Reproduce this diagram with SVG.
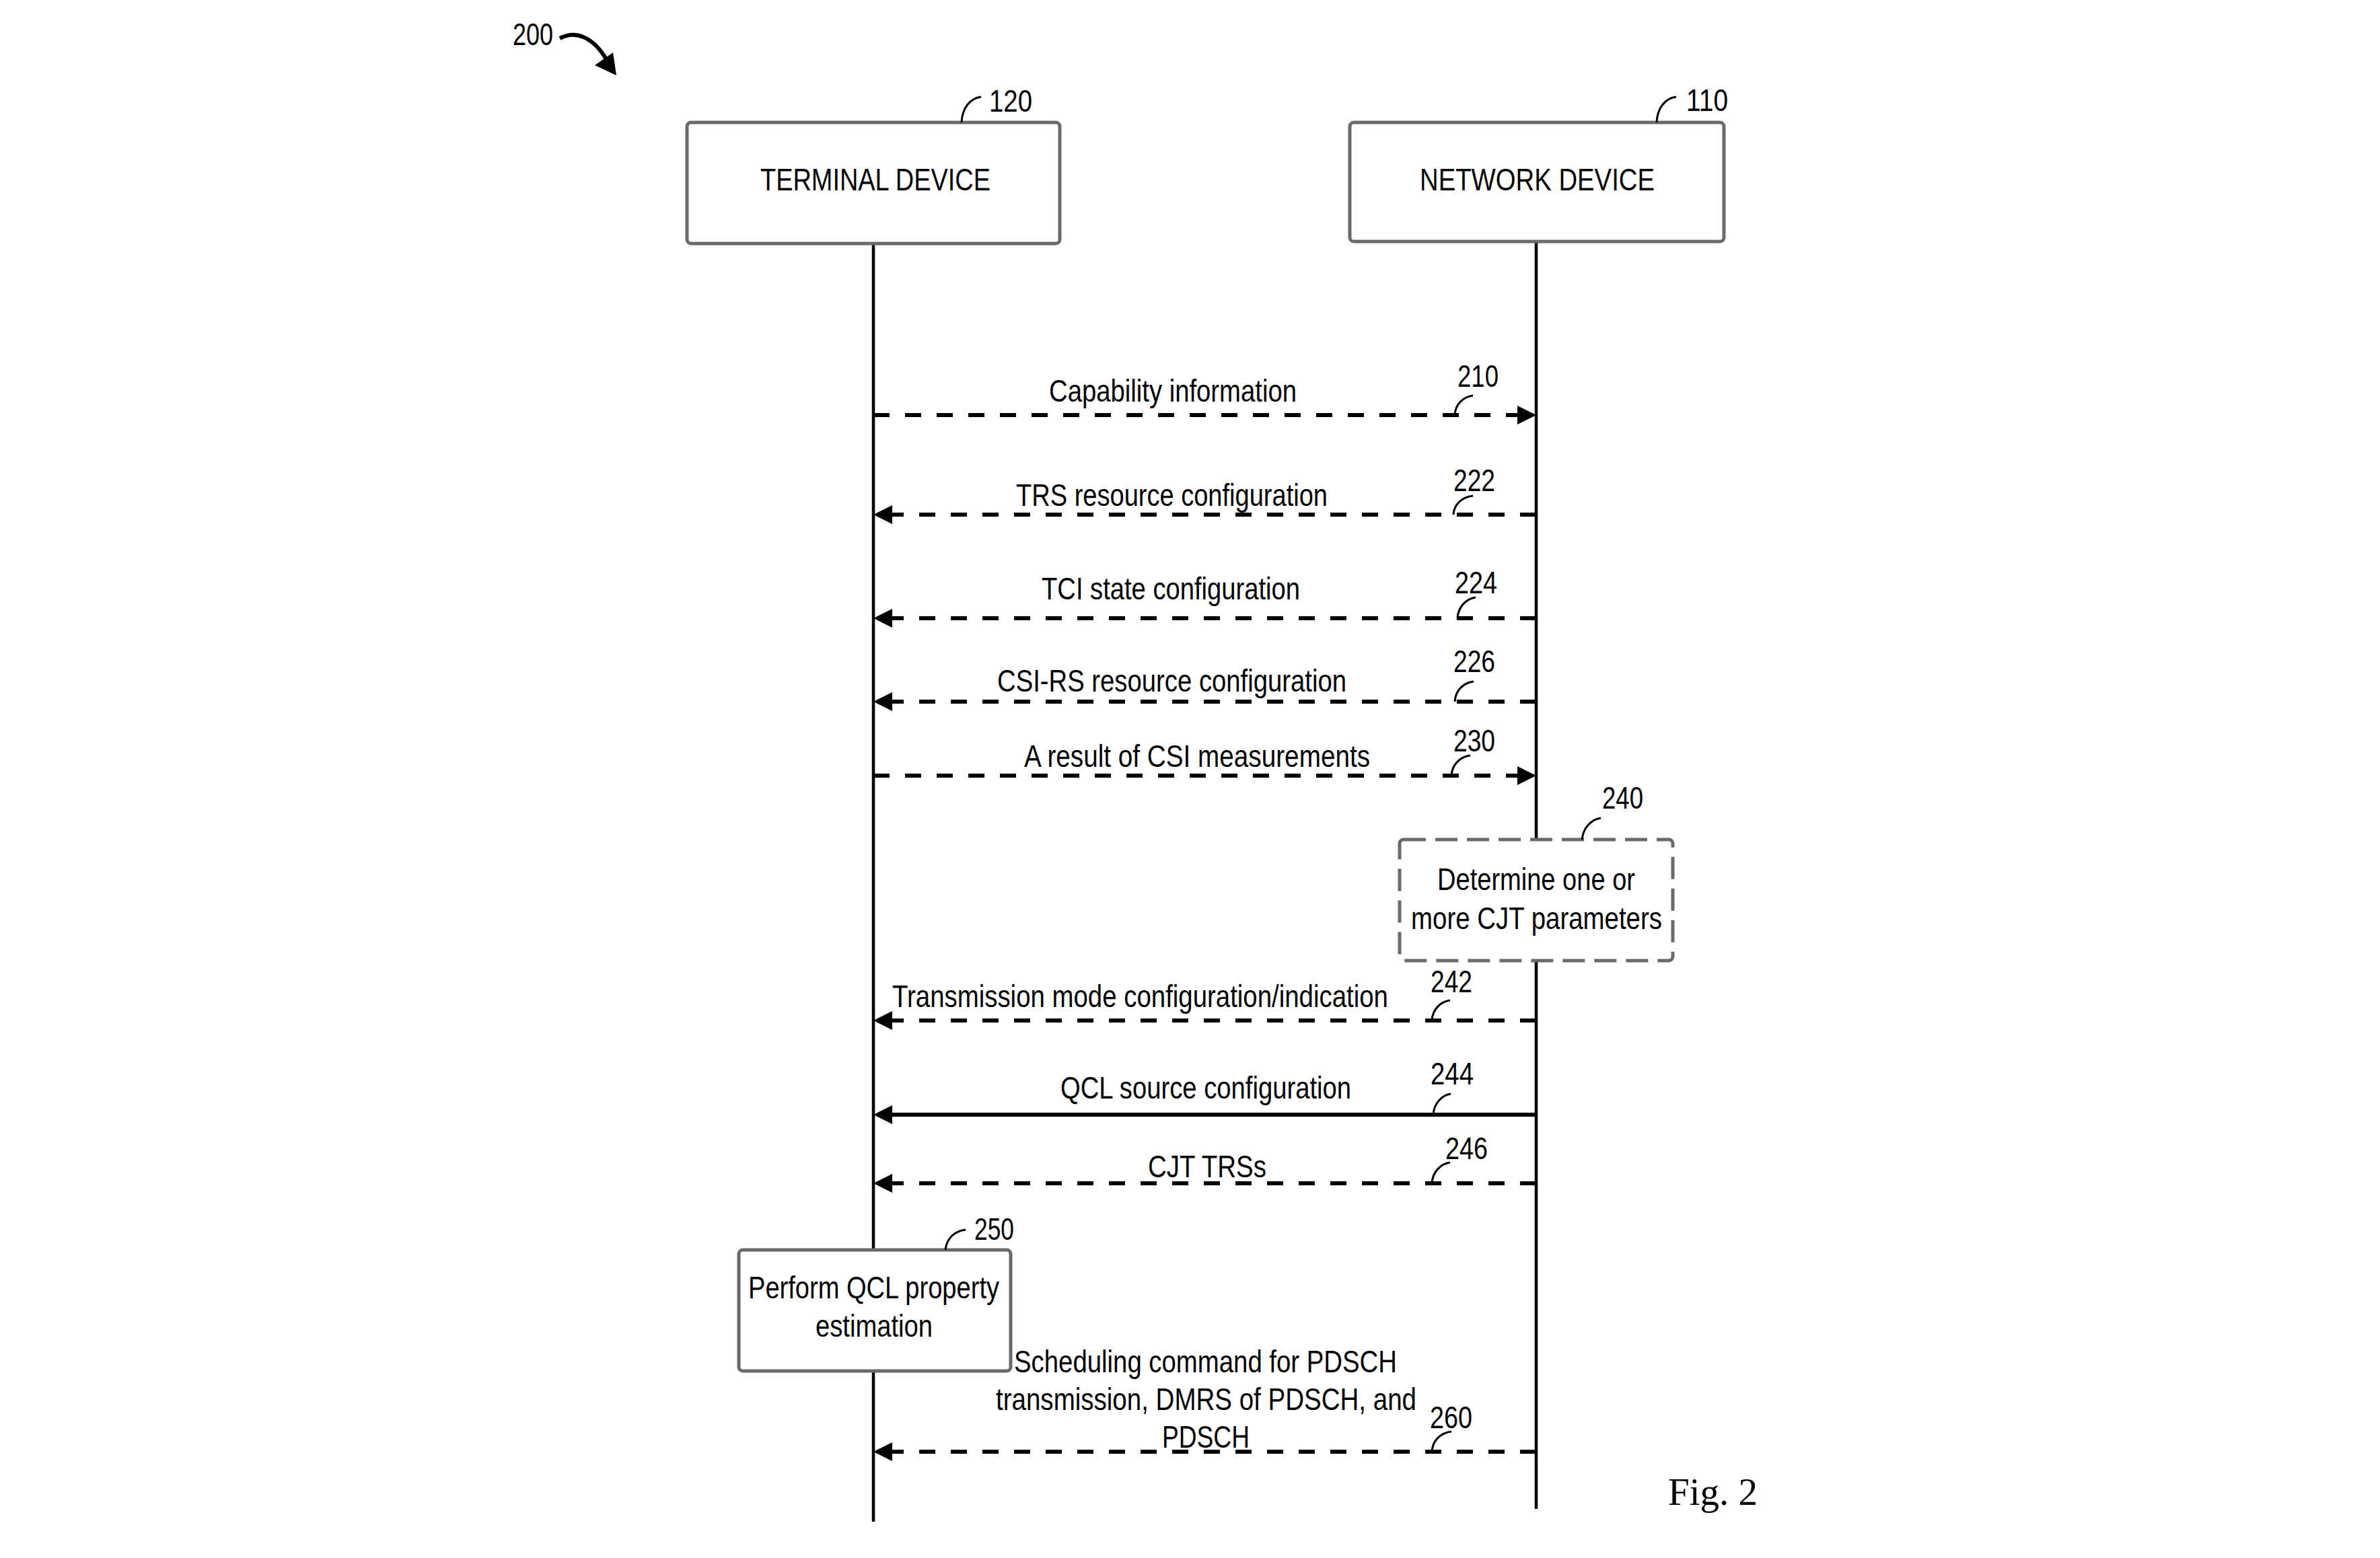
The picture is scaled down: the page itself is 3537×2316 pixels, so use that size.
<svg xmlns="http://www.w3.org/2000/svg" width="3537" height="2316" viewBox="0 0 3537 2316">
<style>
.t{font-family:"Liberation Sans",Arial,sans-serif;font-size:46px;fill:#000}
.box{fill:#fff;stroke:#6a6a6a;stroke-width:5}
.dbox{fill:#fff;stroke:#6a6a6a;stroke-width:5;stroke-dasharray:33 14}
.life{stroke:#000;stroke-width:4.5;fill:none}
.msg{stroke:#000;stroke-width:6;fill:none;stroke-dasharray:24 23}
.solid{stroke:#000;stroke-width:6;fill:none}
.lead{stroke:#000;stroke-width:3;fill:none}
</style>
<defs>
<marker id="ah" viewBox="0 0 28 28" refX="8" refY="14" markerWidth="28" markerHeight="28" markerUnits="userSpaceOnUse" orient="auto">
<path d="M0,0 L28,14 L0,28 z" fill="#000"/>
</marker>
</defs>
<rect width="3537" height="2316" fill="#fff"/>

<g id="figref">
<text class="t" transform="translate(762,67) scale(.835,1)" textLength="71.9" lengthAdjust="spacingAndGlyphs">200</text>
<path d="M832,57 C856,44 882,56 901,88" stroke="#000" stroke-width="6" fill="none"/>
<polygon points="884,97 911,78 916,112" fill="#000"/>
</g>

<g id="lifelines">
<line class="life" x1="1298" y1="362" x2="1298" y2="2262"/>
<line class="life" x1="2283" y1="359" x2="2283" y2="2243"/>
</g>

<g id="terminal">
<rect class="box" x="1021" y="182" width="554" height="180" rx="6"/>
<text class="t" transform="translate(1130,283) scale(.835,1)" textLength="409.6" lengthAdjust="spacingAndGlyphs">TERMINAL DEVICE</text>
<path class="lead" d="M1429,182 C1430,160 1442,146 1458,144"/>
<text class="t" transform="translate(1470,166) scale(.835,1)" textLength="76.6" lengthAdjust="spacingAndGlyphs">120</text>
</g>

<g id="network">
<rect class="box" x="2006" y="182" width="556" height="177" rx="6"/>
<text class="t" transform="translate(2110,283) scale(.835,1)" textLength="418" lengthAdjust="spacingAndGlyphs">NETWORK DEVICE</text>
<path class="lead" d="M2462,182 C2463,160 2475,146 2491,144"/>
<text class="t" transform="translate(2506,165) scale(.835,1)" textLength="74.3" lengthAdjust="spacingAndGlyphs">110</text>
</g>

<g id="step240">
<rect class="dbox" x="2080" y="1248" width="406" height="180" rx="6"/>
<text class="t" transform="translate(2136,1323) scale(.835,1)" textLength="352.1" lengthAdjust="spacingAndGlyphs">Determine one or</text>
<text class="t" transform="translate(2097,1381) scale(.835,1)" textLength="446.7" lengthAdjust="spacingAndGlyphs">more CJT parameters</text>
<path class="lead" d="M2351,1248 C2353,1230 2365,1218 2379,1216"/>
<text class="t" transform="translate(2381,1202) scale(.835,1)" textLength="73.1" lengthAdjust="spacingAndGlyphs">240</text>
</g>

<g id="step250">
<rect class="box" x="1098" y="1858" width="404" height="180" rx="6"/>
<text class="t" transform="translate(1112,1930) scale(.835,1)" textLength="446.7" lengthAdjust="spacingAndGlyphs">Perform QCL property</text>
<text class="t" transform="translate(1212,1987) scale(.835,1)" textLength="208.4" lengthAdjust="spacingAndGlyphs">estimation</text>
<path class="lead" d="M1405,1858 C1407,1840 1419,1830 1435,1828"/>
<text class="t" transform="translate(1448,1843) scale(.835,1)" textLength="70.7" lengthAdjust="spacingAndGlyphs">250</text>
</g>

<g id="connectors">
<path class="msg" d="M1298,617 L2263,617" marker-end="url(#ah)"/>
<path class="msg" d="M2283,765 L1318,765" marker-end="url(#ah)"/>
<path class="msg" d="M2283,919 L1318,919" marker-end="url(#ah)"/>
<path class="msg" d="M2283,1043 L1318,1043" marker-end="url(#ah)"/>
<path class="msg" d="M1298,1153 L2263,1153" marker-end="url(#ah)"/>
<path class="msg" d="M2283,1517 L1318,1517" marker-end="url(#ah)"/>
<path class="solid" d="M2283,1657 L1318,1657" marker-end="url(#ah)"/>
<path class="msg" d="M2283,1759 L1318,1759" marker-end="url(#ah)"/>
<path class="msg" d="M2283,2158 L1318,2158" marker-end="url(#ah)"/>
</g>

<g id="labels">
<text class="t" transform="translate(1559,597) scale(.835,1)" textLength="440.7" lengthAdjust="spacingAndGlyphs">Capability information</text>
<path class="lead" d="M2162,617 C2163,600 2175,590 2189,588"/>
<text class="t" transform="translate(2166,575) scale(.835,1)" textLength="73.1" lengthAdjust="spacingAndGlyphs">210</text>

<text class="t" transform="translate(1510,752) scale(.835,1)" textLength="554.5" lengthAdjust="spacingAndGlyphs">TRS resource configuration</text>
<path class="lead" d="M2160,765 C2161,749 2173,739 2189,737"/>
<text class="t" transform="translate(2160,730) scale(.835,1)" textLength="74.3" lengthAdjust="spacingAndGlyphs">222</text>

<text class="t" transform="translate(1548,891) scale(.835,1)" textLength="459.9" lengthAdjust="spacingAndGlyphs">TCI state configuration</text>
<path class="lead" d="M2166,919 C2167,902 2179,890 2193,888"/>
<text class="t" transform="translate(2162,882) scale(.835,1)" textLength="75.4" lengthAdjust="spacingAndGlyphs">224</text>

<text class="t" transform="translate(1482,1028) scale(.835,1)" textLength="621.6" lengthAdjust="spacingAndGlyphs">CSI-RS resource configuration</text>
<path class="lead" d="M2162,1043 C2163,1026 2175,1015 2190,1013"/>
<text class="t" transform="translate(2160,999) scale(.835,1)" textLength="74.3" lengthAdjust="spacingAndGlyphs">226</text>

<text class="t" transform="translate(1522,1140) scale(.835,1)" textLength="615.6" lengthAdjust="spacingAndGlyphs">A result of CSI measurements</text>
<path class="lead" d="M2157,1153 C2158,1136 2170,1125 2185,1123"/>
<text class="t" transform="translate(2160,1117) scale(.835,1)" textLength="74.3" lengthAdjust="spacingAndGlyphs">230</text>

<text class="t" transform="translate(1326,1497) scale(.835,1)" textLength="882.6" lengthAdjust="spacingAndGlyphs">Transmission mode configuration/indication</text>
<path class="lead" d="M2128,1517 C2129,1500 2141,1489 2155,1487"/>
<text class="t" transform="translate(2126,1475) scale(.835,1)" textLength="74.3" lengthAdjust="spacingAndGlyphs">242</text>

<text class="t" transform="translate(1576,1633) scale(.835,1)" textLength="517.4" lengthAdjust="spacingAndGlyphs">QCL source configuration</text>
<path class="lead" d="M2130,1657 C2131,1640 2143,1628 2156,1626"/>
<text class="t" transform="translate(2126,1612) scale(.835,1)" textLength="76.6" lengthAdjust="spacingAndGlyphs">244</text>

<text class="t" transform="translate(1706,1750) scale(.835,1)" textLength="210.8" lengthAdjust="spacingAndGlyphs">CJT TRSs</text>
<path class="lead" d="M2128,1759 C2129,1742 2141,1730 2155,1728"/>
<text class="t" transform="translate(2148,1723) scale(.835,1)" textLength="75.4" lengthAdjust="spacingAndGlyphs">246</text>

<text class="t" transform="translate(1507,2040) scale(.835,1)" textLength="681.4" lengthAdjust="spacingAndGlyphs">Scheduling command for PDSCH</text>
<text class="t" transform="translate(1480,2096) scale(.835,1)" textLength="748.5" lengthAdjust="spacingAndGlyphs">transmission, DMRS of PDSCH, and</text>
<text class="t" transform="translate(1727,2152) scale(.835,1)" textLength="155.7" lengthAdjust="spacingAndGlyphs">PDSCH</text>
<path class="lead" d="M2128,2158 C2129,2141 2141,2130 2157,2128"/>
<text class="t" transform="translate(2125,2123) scale(.835,1)" textLength="75.4" lengthAdjust="spacingAndGlyphs">260</text>
</g>

<text x="2479" y="2237" font-family="'Liberation Serif','Times New Roman',serif" font-size="57" fill="#000">Fig. 2</text>
</svg>
